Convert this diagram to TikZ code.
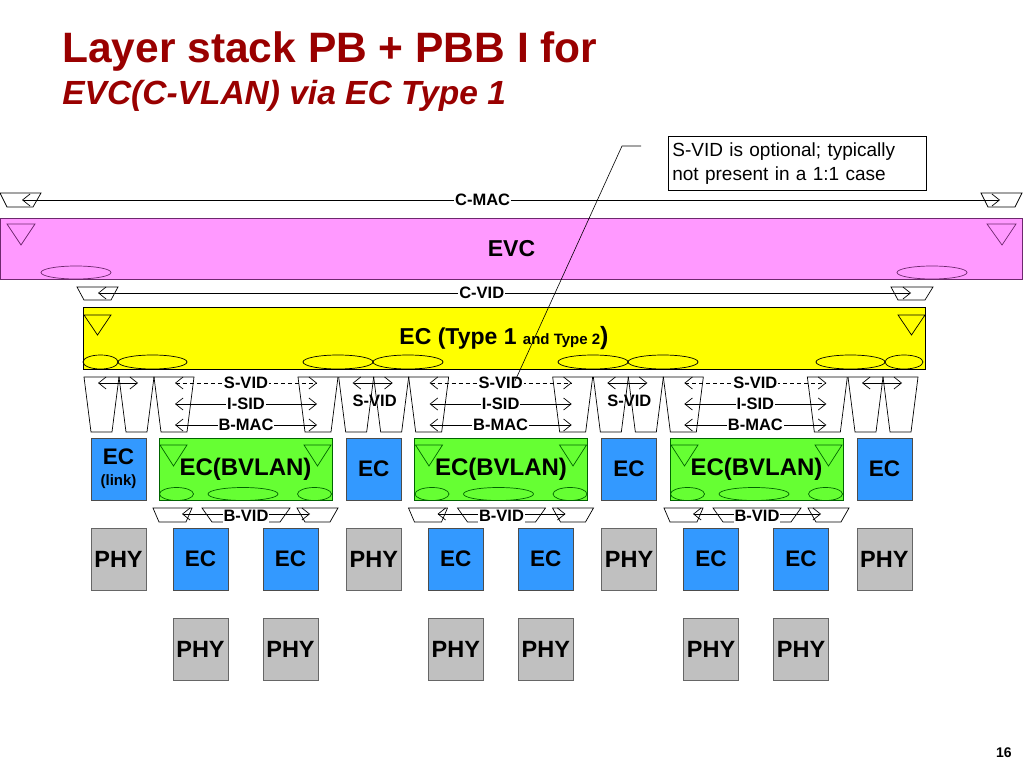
\documentclass[tikz,border=0pt]{standalone}
\usepackage{fontspec}
\setmainfont{Liberation Sans}
\usepackage{tikz}
\usetikzlibrary{arrows.meta}

\definecolor{titlered}{RGB}{153,0,0}
\definecolor{evcpink}{RGB}{255,153,255}
\definecolor{evcline}{RGB}{110,40,110}
\definecolor{ecyellow}{RGB}{255,255,0}
\definecolor{ecblue}{RGB}{51,153,255}
\definecolor{bvgreen}{RGB}{102,255,51}
\definecolor{bvline}{RGB}{0,100,0}
\definecolor{phygray}{RGB}{192,192,192}

\begin{document}
\begin{tikzpicture}[x=1pt,y=-1pt,line width=0.7pt,>={Straight Barb[length=7.5pt,width=12pt]}]
  \tikzstyle{layer}=[draw,inner sep=0pt,font=\bfseries\fontsize{23}{26}\selectfont]
  \tikzstyle{ecbox}=[layer,fill=ecblue,draw=black!70,minimum width=55pt,minimum height=62pt,font=\bfseries\fontsize{22.5}{24}\selectfont]
  \tikzstyle{phybox}=[layer,fill=phygray,draw=black!60,minimum width=55pt,minimum height=62pt,font=\bfseries\fontsize{23.5}{26}\selectfont]
  \tikzstyle{bvbox}=[layer,fill=bvgreen,draw=bvline,minimum width=173pt,minimum height=62pt,font=\bfseries\fontsize{24}{26}\selectfont]
  \tikzstyle{lbl}=[fill=white,inner sep=1pt,font=\bfseries\fontsize{16.5}{18}\selectfont]

  \useasboundingbox (0,0) rectangle (1023,767);
  \fill[white] (0,0) rectangle (1023,767);

  % title
  \node[anchor=base west,inner sep=0pt,text=titlered,font=\bfseries\fontsize{42.5}{48}\selectfont] (title) at (62,63) {Layer stack PB + PBB I for};
  \node[anchor=base west,inner sep=0pt,text=titlered,font=\bfseries\itshape\fontsize{33.5}{38}\selectfont] (subtitle) at (62,105) {EVC(C-VLAN) via EC Type 1};

  % callout
  \node[draw,anchor=north west,text width=250pt,inner sep=4pt,minimum height=54pt,align=left,font=\fontsize{19}{24}\selectfont] (note) at (668,136) {S-VID is optional; typically\\not present in a 1:1 case};

  % C-MAC and EVC
  \draw (0,193) -- (41,193) -- (33,207) -- (7,207) -- cycle;
  \draw (981,193) -- (1022,193) -- (1015,207) -- (988,207) -- cycle;
  \coordinate (cmacL) at (22,200);
  \coordinate (cmacR) at (1000,200);
  \draw[<->] (cmacL) -- node[lbl,pos=0.471] {C-MAC} (cmacR);

  \node[layer,fill=evcpink,draw=evcline,minimum width=1022pt,minimum height=61pt] (evc) at (511.5,248.5) {EVC};
  \draw[evcline] (7,224) -- (35,224) -- (21,245) -- cycle;
  \draw[evcline] (987,224) -- (1016,224) -- (1002,245) -- cycle;
  \draw[evcline] (76,272.5) ellipse [x radius=35pt,y radius=6.5pt];
  \draw[evcline] (932,272.5) ellipse [x radius=35pt,y radius=6.5pt];

  % C-VID and EC
  \draw (77,287) -- (118,287) -- (111,300) -- (84,300) -- cycle;
  \draw (891,287) -- (933,287) -- (925,300) -- (898,300) -- cycle;
  \coordinate (cvidL) at (98,293);
  \coordinate (cvidR) at (911,293);
  \draw[<->] (cvidL) -- node[lbl,pos=0.472] {C-VID} (cvidR);

  \node[layer,fill=ecyellow,minimum width=842pt,minimum height=62pt] (ec) at (504,338.5)
    {EC (Type 1 {\fontsize{15}{16}\selectfont and Type 2}{\fontsize{25}{26}\selectfont)}};
  \draw (84,315) -- (111,315) -- (97.5,335) -- cycle;
  \draw (898,315) -- (925,315) -- (911.5,335) -- cycle;
  \foreach \cx/\rx in {100.5/17.5,152.5/34.5,338/35,408/35,593/35,663/35,850.5/34.5,904/19}
    \draw (\cx,362) ellipse [x radius=\rx pt,y radius=7pt];

  % S-VID pairs
  \foreach \b in {0,...,3} {
    \pgfmathsetmacro\px{84+254.67*\b}
    \draw (\px,377) -- ++(35,0) -- ++(-7,55) -- ++(-21,0) -- cycle;
    \draw (\px+35,377) -- ++(35,0) -- ++(-7,55) -- ++(-21,0) -- cycle;
    \coordinate (pl\b) at (\px+14,383);
    \coordinate (pr\b) at (\px+54,383);
    \draw[<->] (pl\b) -- (pr\b);
  }
  \foreach \b in {1,2}
    \node[font=\bfseries\fontsize{16.5}{18}\selectfont,inner sep=0pt] (psvid\b) at (84+254.67*\b+36,401) {S-VID};

  % spans across EC(BVLAN)
  \foreach \b in {0,1,2} {
    \pgfmathsetmacro\sx{154+254.67*\b}
    \draw (\sx,377) -- ++(40,0) -- ++(-7,55) -- ++(-26,0) -- cycle;
    \draw (\sx+144,377) -- ++(40,0) -- ++(-7,55) -- ++(-26,0) -- cycle;
    \coordinate (svl\b) at (\sx+21,383);
    \coordinate (svr\b) at (\sx+163,383);
    \coordinate (isl\b) at (\sx+21,404);
    \coordinate (isr\b) at (\sx+163,404);
    \coordinate (bml\b) at (\sx+21,425);
    \coordinate (bmr\b) at (\sx+163,425);
    \draw[<->,dash pattern=on 4pt off 3pt] (svl\b) -- node[lbl] {S-VID} (svr\b);
    \draw[<->] (isl\b) -- node[lbl] {I-SID} (isr\b);
    \draw[<->] (bml\b) -- node[lbl] {B-MAC} (bmr\b);
  }

  % EC row
  \node[ecbox,align=center] (eclink) at (118.5,469) {EC\\[-3pt]{\fontsize{15}{16}\selectfont (link)}};
  \foreach \b in {1,2,3}
    \node[ecbox] (ecu\b) at (118.5+255.3*\b,469) {EC};
  \foreach \b in {0,1,2} {
    \pgfmathsetmacro\gx{159+255.5*\b}
    \node[bvbox] (bv\b) at (\gx+86.5,469) {EC(BVLAN)};
    \draw[bvline] (\gx+1,445) -- ++(27,0) -- ++(-13.5,21) -- cycle;
    \draw[bvline] (\gx+145,445) -- ++(27,0) -- ++(-13.5,21) -- cycle;
    \draw[bvline] (\gx+17.5,494) ellipse [x radius=17pt,y radius=6.5pt];
    \draw[bvline] (\gx+84,494) ellipse [x radius=35pt,y radius=6.5pt];
    \draw[bvline] (\gx+155.5,494) ellipse [x radius=17pt,y radius=6.5pt];
    % B-VID
    \draw (\gx-6,508) -- ++(39,0) -- ++(-6,14) -- ++(-27,0) -- cycle;
    \draw (\gx+43,508) -- ++(88,0) -- ++(-10,14) -- ++(-68,0) -- cycle;
    \draw (\gx+138,508) -- ++(41,0) -- ++(-8,14) -- ++(-25,0) -- cycle;
    \coordinate (bvl\b) at (\gx+23,514);
    \coordinate (bvr\b) at (\gx+151,514);
    \draw[<->] (bvl\b) -- node[lbl,yshift=-2pt] {B-VID} (bvr\b);
  }

  % PHY and EC rows
  \foreach \b in {0,...,3}
    \node[phybox] (phya\b) at (118.5+255.3*\b,559) {PHY};
  \foreach \b in {0,1,2} {
    \node[ecbox] (ecla\b) at (200.5+255.3*\b,559) {EC};
    \node[ecbox] (eclb\b) at (290.5+255.3*\b,559) {EC};
    \node[phybox] (phyla\b) at (200.5+255.3*\b,649) {PHY};
    \node[phybox] (phylb\b) at (290.5+255.3*\b,649) {PHY};
  }

  % leader from the note
  \coordinate (ldA) at (641,146);
  \coordinate (ldB) at (622,146);
  \coordinate (ldC) at (515,381);
  \draw[line width=0.6pt] (ldA) -- (ldB) -- (ldC);

  \node[anchor=base east,inner sep=0pt,font=\bfseries\fontsize{14}{16}\selectfont] (pagenum) at (1012,757) {16};
\end{tikzpicture}
\end{document}
